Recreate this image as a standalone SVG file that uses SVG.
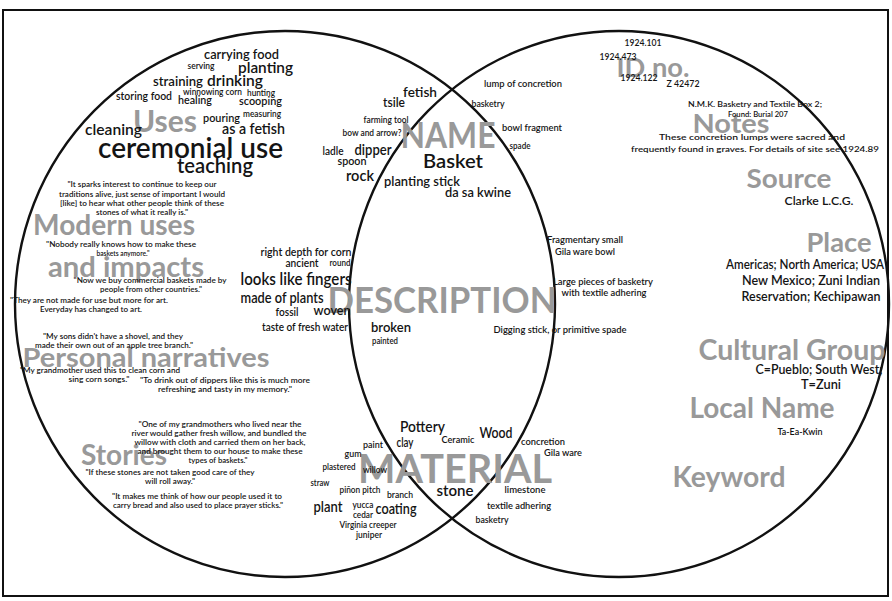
<svg xmlns="http://www.w3.org/2000/svg" width="892" height="601" viewBox="0 0 892 601">
<style>
text{font-family:Lato,"Open Sans","Liberation Sans",sans-serif;text-anchor:middle}
.g{fill:#999;font-weight:700}
.w{fill:#141414;font-weight:600}
.q{fill:#141414;font-weight:600;font-size:8.3px}
.s{fill:#141414;font-weight:600;font-size:9.5px}
.c{fill:none;stroke:#111;stroke-width:2.4}
</style>
<rect x="0" y="0" width="892" height="601" fill="#fff"/>
<rect id="frame" x="3" y="10" width="885" height="586" fill="#fff" stroke="#111" stroke-width="2"/>
<g id="connectors">
<ellipse class="c" cx="285" cy="304" rx="270" ry="273"/>
<ellipse class="c" cx="619" cy="304" rx="270" ry="273"/>
</g>
<g id="labels-grey">
<text class="g" x="165" y="132" font-size="31" textLength="64" lengthAdjust="spacingAndGlyphs">Uses</text>
<text class="g" x="114" y="235" font-size="28" textLength="162" lengthAdjust="spacingAndGlyphs">Modern uses</text>
<text class="g" x="126" y="277" font-size="28" textLength="156" lengthAdjust="spacingAndGlyphs">and impacts</text>
<text class="g" x="146" y="367" font-size="26" textLength="247" lengthAdjust="spacingAndGlyphs">Personal narratives</text>
<text class="g" x="124" y="465" font-size="28" textLength="86" lengthAdjust="spacingAndGlyphs">Stories</text>
<text class="g" x="448" y="148" font-size="36" textLength="95" lengthAdjust="spacingAndGlyphs">NAME</text>
<text class="g" x="442" y="313" font-size="37" textLength="229" lengthAdjust="spacingAndGlyphs">DESCRIPTION</text>
<text class="g" x="455" y="483" font-size="40" textLength="194" lengthAdjust="spacingAndGlyphs">MATERIAL</text>
<text class="g" x="653" y="77" font-size="26" textLength="73" lengthAdjust="spacingAndGlyphs">ID no.</text>
<text class="g" x="731" y="133" font-size="27" textLength="77" lengthAdjust="spacingAndGlyphs">Notes</text>
<text class="g" x="789" y="188" font-size="27" textLength="85" lengthAdjust="spacingAndGlyphs">Source</text>
<text class="g" x="839" y="252" font-size="27" textLength="65" lengthAdjust="spacingAndGlyphs">Place</text>
<text class="g" x="792" y="360" font-size="28" textLength="187" lengthAdjust="spacingAndGlyphs">Cultural Group</text>
<text class="g" x="762" y="418" font-size="28" textLength="145" lengthAdjust="spacingAndGlyphs">Local Name</text>
<text class="g" x="729" y="487" font-size="28" textLength="113" lengthAdjust="spacingAndGlyphs">Keyword</text>
</g>
<g id="uses">
<text class="w" x="241.5" y="59" font-size="13" textLength="75" lengthAdjust="spacingAndGlyphs">carrying food</text>
<text class="w" x="201" y="69" font-size="8.5" textLength="27" lengthAdjust="spacingAndGlyphs">serving</text>
<text class="w" x="265.5" y="73" font-size="16" textLength="55" lengthAdjust="spacingAndGlyphs">planting</text>
<text class="w" x="178" y="86" font-size="12.5" textLength="50" lengthAdjust="spacingAndGlyphs">straining</text>
<text class="w" x="235" y="86" font-size="16" textLength="56" lengthAdjust="spacingAndGlyphs">drinking</text>
<text class="w" x="144" y="100" font-size="11.5" textLength="56" lengthAdjust="spacingAndGlyphs">storing food</text>
<text class="w" x="212.5" y="95" font-size="8.5" textLength="59" lengthAdjust="spacingAndGlyphs">winnowing corn</text>
<text class="w" x="261" y="96" font-size="8.5" textLength="28" lengthAdjust="spacingAndGlyphs">hunting</text>
<text class="w" x="195" y="104" font-size="11.5" textLength="34" lengthAdjust="spacingAndGlyphs">healing</text>
<text class="w" x="260.5" y="105" font-size="12" textLength="43" lengthAdjust="spacingAndGlyphs">scooping</text>
<text class="w" x="221.5" y="122" font-size="11.5" textLength="37" lengthAdjust="spacingAndGlyphs">pouring</text>
<text class="w" x="262" y="117" font-size="8.5" textLength="38" lengthAdjust="spacingAndGlyphs">measuring</text>
<text class="w" x="113.5" y="135" font-size="15.5" textLength="57" lengthAdjust="spacingAndGlyphs">cleaning</text>
<text class="w" x="253.5" y="134" font-size="15" textLength="63" lengthAdjust="spacingAndGlyphs">as a fetish</text>
<text class="w" x="190.5" y="158" font-size="28" textLength="185" lengthAdjust="spacingAndGlyphs">ceremonial use</text>
<text class="w" x="215" y="173" font-size="21" textLength="76" lengthAdjust="spacingAndGlyphs">teaching</text>
</g>
<g id="name">
<text class="w" x="420" y="97" font-size="13" textLength="34" lengthAdjust="spacingAndGlyphs">fetish</text>
<text class="w" x="394" y="107" font-size="14" textLength="22" lengthAdjust="spacingAndGlyphs">tsile</text>
<text class="w" x="386" y="123" font-size="8.5" textLength="45" lengthAdjust="spacingAndGlyphs">farming tool</text>
<text class="w" x="372" y="136" font-size="8.5" textLength="59" lengthAdjust="spacingAndGlyphs">bow and arrow?</text>
<text class="w" x="333" y="155" font-size="11.5" textLength="21" lengthAdjust="spacingAndGlyphs">ladle</text>
<text class="w" x="373" y="155" font-size="15" textLength="37" lengthAdjust="spacingAndGlyphs">dipper</text>
<text class="w" x="352" y="165" font-size="11.5" textLength="29" lengthAdjust="spacingAndGlyphs">spoon</text>
<text class="w" x="453" y="168" font-size="20" textLength="60" lengthAdjust="spacingAndGlyphs">Basket</text>
<text class="w" x="360" y="181" font-size="16" textLength="28" lengthAdjust="spacingAndGlyphs">rock</text>
<text class="w" x="422" y="186" font-size="13.5" textLength="76" lengthAdjust="spacingAndGlyphs">planting stick</text>
<text class="w" x="478" y="197" font-size="13.5" textLength="66" lengthAdjust="spacingAndGlyphs">da sa kwine</text>
<text class="s" x="523" y="87" textLength="78" lengthAdjust="spacingAndGlyphs">lump of concretion</text>
<text class="s" x="488" y="107" textLength="33" lengthAdjust="spacingAndGlyphs">basketry</text>
<text class="s" x="532" y="131" font-size="10" textLength="60" lengthAdjust="spacingAndGlyphs">bowl fragment</text>
<text class="s" x="520" y="149" font-size="8" textLength="21" lengthAdjust="spacingAndGlyphs">spade</text>
</g>
<g id="modern-uses">
<text class="q" x="142" y="187" textLength="149" lengthAdjust="spacingAndGlyphs">"It sparks interest to continue to keep our</text>
<text class="q" x="142" y="197" textLength="166" lengthAdjust="spacingAndGlyphs">traditions alive, just sense of important I would</text>
<text class="q" x="142" y="206" textLength="164" lengthAdjust="spacingAndGlyphs">[like] to hear what other people think of these</text>
<text class="q" x="142" y="215" textLength="92" lengthAdjust="spacingAndGlyphs">stones of what it really is."</text>
<text class="q" x="121" y="247" textLength="150" lengthAdjust="spacingAndGlyphs">"Nobody really knows how to make these</text>
<text class="q" x="123" y="256" textLength="53" lengthAdjust="spacingAndGlyphs">baskets anymore."</text>
<text class="q" x="150" y="283" textLength="153" lengthAdjust="spacingAndGlyphs">"Now we buy commercial baskets made by</text>
<text class="q" x="151" y="292" textLength="102" lengthAdjust="spacingAndGlyphs">people from other countries."</text>
<text class="q" x="89" y="303" textLength="158" lengthAdjust="spacingAndGlyphs">"They are not made for use but more for art.</text>
<text class="q" x="91" y="312" textLength="102" lengthAdjust="spacingAndGlyphs">Everyday has changed to art.</text>
</g>
<g id="personal-narratives">
<text class="q" x="113" y="339" textLength="140" lengthAdjust="spacingAndGlyphs">"My sons didn't have a shovel, and they</text>
<text class="q" x="114" y="348" textLength="158" lengthAdjust="spacingAndGlyphs">made their own out of an apple tree branch."</text>
<text class="q" x="100" y="373" textLength="160" lengthAdjust="spacingAndGlyphs">"My grandmother used this to clean corn and</text>
<text class="q" x="99" y="382" textLength="61" lengthAdjust="spacingAndGlyphs">sing corn songs."</text>
<text class="q" x="225" y="383" textLength="170" lengthAdjust="spacingAndGlyphs">"To drink out of dippers like this is much more</text>
<text class="q" x="225" y="392" textLength="134" lengthAdjust="spacingAndGlyphs">refreshing and tasty in my memory."</text>
</g>
<g id="description">
<text class="w" x="306" y="256" font-size="11.5" textLength="91" lengthAdjust="spacingAndGlyphs">right depth for corn</text>
<text class="w" x="302" y="267" font-size="11.5" textLength="33" lengthAdjust="spacingAndGlyphs">ancient</text>
<text class="w" x="340" y="266" font-size="8.5" textLength="21" lengthAdjust="spacingAndGlyphs">round</text>
<text class="w" x="296" y="285" font-size="17" textLength="111" lengthAdjust="spacingAndGlyphs">looks like fingers</text>
<text class="w" x="282" y="303" font-size="16" textLength="83" lengthAdjust="spacingAndGlyphs">made of plants</text>
<text class="w" x="287" y="316" font-size="11.5" textLength="23" lengthAdjust="spacingAndGlyphs">fossil</text>
<text class="w" x="332" y="315" font-size="14" textLength="37" lengthAdjust="spacingAndGlyphs">woven</text>
<text class="w" x="305" y="331" font-size="11.5" textLength="86" lengthAdjust="spacingAndGlyphs">taste of fresh water</text>
<text class="w" x="391" y="332" font-size="13" textLength="40" lengthAdjust="spacingAndGlyphs">broken</text>
<text class="w" x="385" y="344" font-size="10" textLength="26" lengthAdjust="spacingAndGlyphs">painted</text>
<text class="s" x="585" y="243" font-size="10" textLength="76" lengthAdjust="spacingAndGlyphs">Fragmentary small</text>
<text class="s" x="585" y="255" font-size="10" textLength="60" lengthAdjust="spacingAndGlyphs">Gila ware bowl</text>
<text class="s" x="603" y="285" textLength="100" lengthAdjust="spacingAndGlyphs">Large pieces of basketry</text>
<text class="s" x="604" y="296" textLength="85" lengthAdjust="spacingAndGlyphs">with textile adhering</text>
<text class="s" x="560" y="333" textLength="133" lengthAdjust="spacingAndGlyphs">Digging stick, or primitive spade</text>
</g>
<g id="stories">
<text class="q" x="220" y="427" textLength="163" lengthAdjust="spacingAndGlyphs">"One of my grandmothers who lived near the</text>
<text class="q" x="219" y="436" textLength="175" lengthAdjust="spacingAndGlyphs">river would gather fresh willow, and bundled the</text>
<text class="q" x="220" y="445" textLength="171" lengthAdjust="spacingAndGlyphs">willow with cloth and carried them on her back,</text>
<text class="q" x="220" y="454" textLength="165" lengthAdjust="spacingAndGlyphs">and brought them to our house to make these</text>
<text class="q" x="218" y="463" textLength="59" lengthAdjust="spacingAndGlyphs">types of baskets."</text>
<text class="q" x="170" y="475" textLength="169" lengthAdjust="spacingAndGlyphs">"If these stones are not taken good care of they</text>
<text class="q" x="170" y="484" textLength="50" lengthAdjust="spacingAndGlyphs">will roll away."</text>
<text class="q" x="197" y="499" textLength="170" lengthAdjust="spacingAndGlyphs">"It makes me think of how our people used it to</text>
<text class="q" x="198" y="508" textLength="170" lengthAdjust="spacingAndGlyphs">carry bread and also used to place prayer sticks."</text>
</g>
<g id="material">
<text class="w" x="422.5" y="432" font-size="16" textLength="45" lengthAdjust="spacingAndGlyphs">Pottery</text>
<text class="w" x="405" y="447" font-size="13" textLength="17" lengthAdjust="spacingAndGlyphs">clay</text>
<text class="w" x="458" y="443" font-size="10" textLength="33" lengthAdjust="spacingAndGlyphs">Ceramic</text>
<text class="w" x="496" y="438" font-size="15" textLength="33" lengthAdjust="spacingAndGlyphs">Wood</text>
<text class="w" x="373" y="448" font-size="9" textLength="20" lengthAdjust="spacingAndGlyphs">paint</text>
<text class="w" x="353" y="457" font-size="9" textLength="17" lengthAdjust="spacingAndGlyphs">gum</text>
<text class="w" x="339" y="470" font-size="9" textLength="33" lengthAdjust="spacingAndGlyphs">plastered</text>
<text class="w" x="375" y="473" font-size="9" textLength="24" lengthAdjust="spacingAndGlyphs">willow</text>
<text class="w" x="320" y="486" font-size="9" textLength="19" lengthAdjust="spacingAndGlyphs">straw</text>
<text class="w" x="360" y="493" font-size="9" textLength="41" lengthAdjust="spacingAndGlyphs">piñon pitch</text>
<text class="w" x="400" y="498" font-size="9" textLength="26" lengthAdjust="spacingAndGlyphs">branch</text>
<text class="w" x="455" y="496" font-size="15" textLength="37" lengthAdjust="spacingAndGlyphs">stone</text>
<text class="w" x="328" y="512" font-size="15" textLength="29" lengthAdjust="spacingAndGlyphs">plant</text>
<text class="w" x="363" y="508" font-size="9" textLength="21" lengthAdjust="spacingAndGlyphs">yucca</text>
<text class="w" x="363" y="518" font-size="9" textLength="20" lengthAdjust="spacingAndGlyphs">cedar</text>
<text class="w" x="396" y="514" font-size="15" textLength="41" lengthAdjust="spacingAndGlyphs">coating</text>
<text class="w" x="368" y="528" font-size="9" textLength="57" lengthAdjust="spacingAndGlyphs">Virginia creeper</text>
<text class="w" x="369" y="538" font-size="9" textLength="26" lengthAdjust="spacingAndGlyphs">juniper</text>
<text class="s" x="543" y="445" font-size="9" textLength="44" lengthAdjust="spacingAndGlyphs">concretion</text>
<text class="s" x="563" y="456" textLength="38" lengthAdjust="spacingAndGlyphs">Gila ware</text>
<text class="s" x="525" y="493" textLength="41" lengthAdjust="spacingAndGlyphs">limestone</text>
<text class="s" x="519" y="509" textLength="64" lengthAdjust="spacingAndGlyphs">textile adhering</text>
<text class="s" x="492" y="523" textLength="33" lengthAdjust="spacingAndGlyphs">basketry</text>
</g>
<g id="id-no">
<text class="s" x="643" y="46" font-size="9" textLength="37" lengthAdjust="spacingAndGlyphs">1924.101</text>
<text class="s" x="618" y="60" font-size="9" textLength="37" lengthAdjust="spacingAndGlyphs">1924.473</text>
<text class="s" x="639" y="81" font-size="9" textLength="37" lengthAdjust="spacingAndGlyphs">1924.122</text>
<text class="s" x="683" y="87" font-size="9" textLength="33" lengthAdjust="spacingAndGlyphs">Z 42472</text>
</g>
<g id="notes">
<text class="q" x="755" y="107" textLength="134" lengthAdjust="spacingAndGlyphs">N.M.K. Basketry and Textile Box 2;</text>
<text class="q" x="758" y="117" textLength="60" lengthAdjust="spacingAndGlyphs">Found: Burial 207</text>
<text class="q" x="752" y="140" font-size="9" textLength="186" lengthAdjust="spacingAndGlyphs">These concretion lumps were sacred and</text>
<text class="q" x="755" y="152" font-size="9" textLength="248" lengthAdjust="spacingAndGlyphs">frequently found in graves. For details of site see 1924.89</text>
</g>
<g id="source">
<text class="w" x="819" y="205" font-size="12" textLength="69" lengthAdjust="spacingAndGlyphs">Clarke L.C.G.</text>
</g>
<g id="place">
<text class="w" x="805" y="269" font-size="13" textLength="158" lengthAdjust="spacingAndGlyphs">Americas; North America; USA</text>
<text class="w" x="811" y="285" font-size="13" textLength="138" lengthAdjust="spacingAndGlyphs">New Mexico; Zuni Indian</text>
<text class="w" x="811" y="301" font-size="13" textLength="139" lengthAdjust="spacingAndGlyphs">Reservation; Kechipawan</text>
</g>
<g id="cultural-group">
<text class="w" x="819" y="374" font-size="12.5" textLength="127" lengthAdjust="spacingAndGlyphs">C=Pueblo; South West;</text>
<text class="w" x="821" y="389" font-size="12.5" textLength="40" lengthAdjust="spacingAndGlyphs">T=Zuni</text>
</g>
<g id="local-name">
<text class="w" x="800" y="435" font-size="8.5" textLength="45" lengthAdjust="spacingAndGlyphs">Ta-Ea-Kwin</text>
</g>
</svg>
